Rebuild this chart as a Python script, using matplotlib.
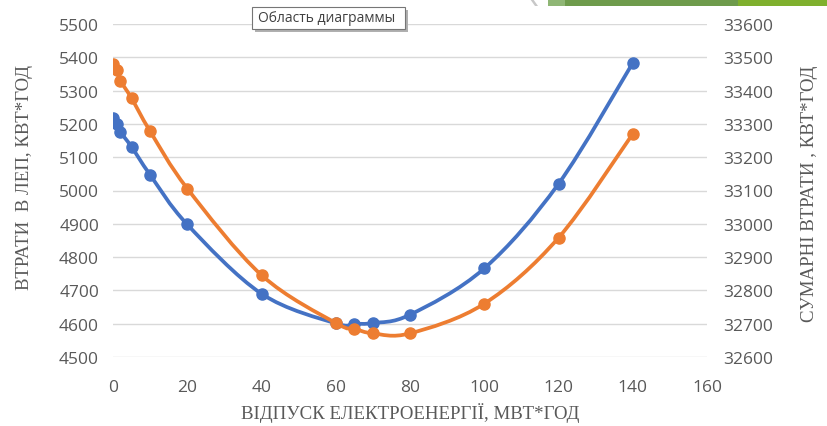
import matplotlib.pyplot as plt
from matplotlib.path import Path
from matplotlib.patches import PathPatch, Rectangle, Polygon

# відпуск електроенергії, МВт*год
supply = [0, 1, 2, 5, 10, 20, 40, 60, 65, 70, 80, 100, 120, 140]
# втрати в ЛЕП, кВт*год (ліва вісь)
line_losses = [5218, 5200, 5176, 5131, 5047, 4898, 4690, 4601, 4600, 4602, 4627, 4766, 5020, 5383]
# сумарні втрати, кВт*год (права вісь)
total_losses = [33480, 33462, 33430, 33377, 33278, 33106, 32846, 32702, 32685, 32671, 32671, 32760, 32958, 33270]

x_ticks = list(range(0, 161, 20))
left_ticks = list(range(4500, 5501, 100))
right_ticks = list(range(32600, 33601, 100))

BLUE = '#4472C4'
ORANGE = '#ED7D31'
GRAY = '#595959'


def smooth_path(xs, ys):
    # згладжена лінія як в Excel: кубічні криві Безьє через усі точки
    verts = [(xs[0], ys[0])]
    codes = [Path.MOVETO]
    n = len(xs)
    for i in range(n - 1):
        x0, y0 = (xs[i - 1], ys[i - 1]) if i > 0 else (xs[i], ys[i])
        x1, y1 = xs[i], ys[i]
        x2, y2 = xs[i + 1], ys[i + 1]
        x3, y3 = (xs[i + 2], ys[i + 2]) if i + 2 < n else (x2, y2)
        c1 = (x1 + (x2 - x0) / 6, y1 + (y2 - y0) / 6)
        c2 = (x2 - (x3 - x1) / 6, y2 - (y3 - y1) / 6)
        verts += [c1, c2, (x2, y2)]
        codes += [Path.CURVE4] * 3
    return Path(verts, codes)


fig = plt.figure(figsize=(8.27, 4.27), dpi=100)
ax = fig.add_axes([113 / 827, 1 - 358 / 427, (707 - 113) / 827, (358 - 25) / 427])
ax2 = ax.twinx()

ax.set_xlim(0, 160)
ax.set_ylim(4500, 5500)
ax2.set_ylim(32600, 33600)

ax.set_xticks(x_ticks)
ax.set_yticks(left_ticks)
ax2.set_yticks(right_ticks)

for a in (ax, ax2):
    for s in a.spines.values():
        s.set_visible(False)
    a.tick_params(length=0, colors=GRAY, labelsize=12.5)
    for lbl in a.get_xticklabels() + a.get_yticklabels():
        lbl.set_fontfamily('Open Sans')
ax.tick_params(axis='y', pad=10)
ax2.tick_params(axis='y', pad=12)
ax.tick_params(axis='x', pad=16)

ax.grid(axis='y', color='#D9D9D9', linewidth=1.0)
ax.set_axisbelow(True)

ax.add_patch(PathPatch(smooth_path(supply, line_losses), facecolor='none',
                       edgecolor=BLUE, linewidth=2.7, capstyle='round', zorder=3))
ax.plot(supply, line_losses, 'o', color=BLUE, markersize=8, zorder=4)

ax2.add_patch(PathPatch(smooth_path(supply, total_losses), facecolor='none',
                        edgecolor=ORANGE, linewidth=2.7, capstyle='round', zorder=3))
ax2.plot(supply, total_losses, 'o', color=ORANGE, markersize=8, zorder=4)

label_font = {'family': 'Liberation Serif', 'size': 13.6, 'color': GRAY}
fig.text(25 / 827, 1 - 178 / 427, 'ВТРАТИ  В ЛЕП, КВТ*ГОД', rotation=90,
         ha='center', va='center', **label_font)
fig.text(809 / 827, 1 - 194 / 427, 'СУМАРНІ ВТРАТИ , КВТ*ГОД', rotation=90,
         ha='center', va='center', **label_font)
fig.text(410 / 827, 1 - 413 / 427, 'ВІДПУСК ЕЛЕКТРОЕНЕРГІЇ, МВТ*ГОД',
         ha='center', va='center', **label_font)

# смуга оформлення слайда вгорі праворуч
W, H = 827, 427
def frect(x0, y0, x1, y1, color, z=5):
    fig.patches.append(Rectangle((x0 / W, 1 - y1 / H), (x1 - x0) / W, (y1 - y0) / H,
                                 transform=fig.transFigure, facecolor=color,
                                 edgecolor='none', zorder=z))
frect(548, 0, 565, 7, '#8FB675')
frect(565, 0, 738, 7, '#6E9B4C')
frect(738, 0, 827, 7, '#7FB02E')
fig.patches.append(Polygon([(530 / W, 1), (533 / W, 1), (538 / W, 1 - 7 / H), (535 / W, 1 - 7 / H)],
                           closed=True, transform=fig.transFigure,
                           facecolor='#C8C8C8', edgecolor='none', zorder=5))

# підказка
frect(255, 11, 408, 33, '#B0B0B0', z=6)
fig.patches.append(Rectangle((252 / W, 1 - 30 / H), 153 / W, 22 / H,
                             transform=fig.transFigure, facecolor='white',
                             edgecolor='#767676', linewidth=0.8, zorder=7))
fig.text(258 / 827, 1 - 19 / 427, 'Область диаграммы', ha='left', va='center',
         family='Open Sans', size=10, color='#404040', zorder=8)

fig.savefig('out.png', dpi=100)
